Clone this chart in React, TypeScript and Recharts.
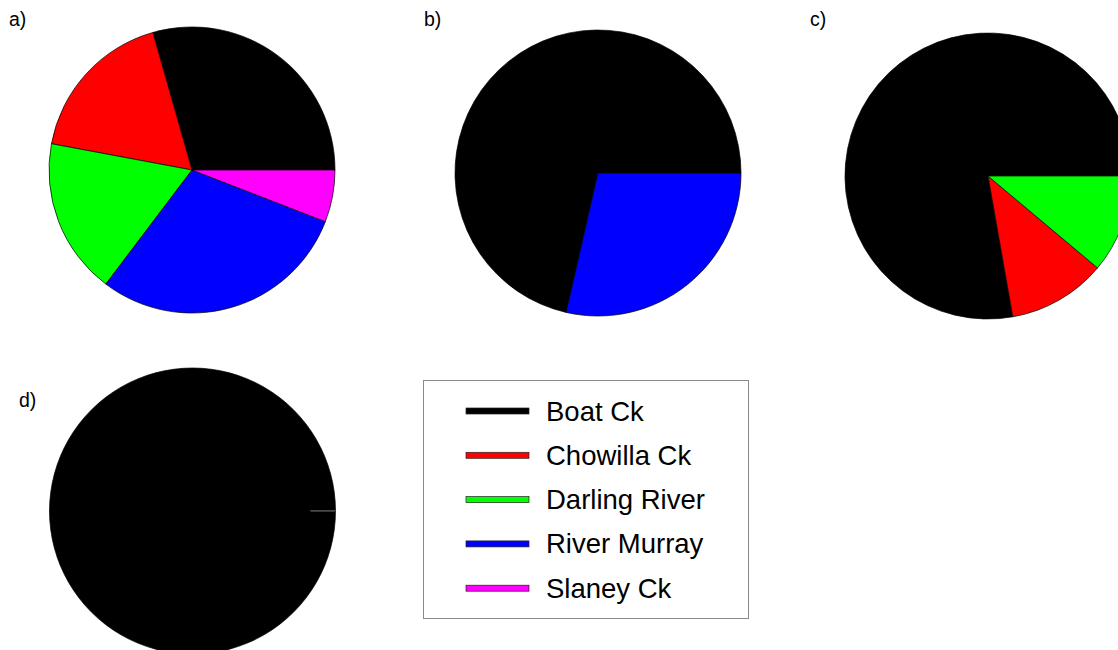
import { PieChart, Pie, Cell, Legend } from "recharts";

// sites, in the order the slices are drawn (counter-clockwise from 3 o'clock)
const sites = ["Boat Ck", "Chowilla Ck", "Darling River", "River Murray", "Slaney Ck"];
const siteColors = ["#000000", "#ff0000", "#00ff00", "#0000ff", "#ff00ff"];

// counts per site for each panel
const panelA = [5, 3, 3, 5, 1];
const panelB = [5, 0, 0, 2, 0];
const panelC = [7, 1, 1, 0, 0];
const panelD = [1, 0, 0, 0, 0];

const panelLabels = ["a)", "b)", "c)", "d)"];

// tiny grey edge left on the rim of panel d
const rimMark = [0.02, 99.98];

const W = 1118;
const H = 650;
const R = 143;
const FONT = '"Liberation Sans", Arial, sans-serif';

const layout = [
  { values: panelA, cx: 192, cy: 170, lx: 9, ly: 26 },
  { values: panelB, cx: 598, cy: 173, lx: 424, ly: 26 },
  { values: panelC, cx: 988, cy: 176, lx: 810, ly: 26 },
  { values: panelD, cx: 192.5, cy: 511, lx: 19, ly: 407 },
];

function toSlices(values: number[]) {
  return values
    .map((v, i) => ({ name: sites[i], value: v, color: siteColors[i] }))
    .filter((d) => d.value > 0);
}

function LegendBox() {
  return (
    <svg width={326} height={239} style={{ display: "block" }}>
      <rect x={0.5} y={0.5} width={325} height={238} fill="#fff" stroke="#8a8a8a" />
      {sites.map((s, i) => {
        const y = 31 + i * 44.3;
        return (
          <g key={s}>
            <rect
              x={43}
              y={y - 3}
              width={63}
              height={6}
              fill={siteColors[i]}
              stroke="#222"
              strokeWidth={0.7}
            />
            <text x={123} y={y + 9.5} fontSize={27.5} fontFamily={FONT} fill="#000">
              {s}
            </text>
          </g>
        );
      })}
    </svg>
  );
}

export default function App() {
  return (
    <div
      style={{
        position: "absolute",
        left: 0,
        top: 0,
        width: W,
        height: H,
        overflow: "hidden",
        background: "#fff",
      }}
    >
      <PieChart width={W} height={H} margin={{ top: 0, right: 0, bottom: 0, left: 0 }}>
        {layout.map((p, k) => {
          const slices = toSlices(p.values);
          return (
            <Pie
              key={k}
              data={slices}
              dataKey="value"
              nameKey="name"
              cx={p.cx}
              cy={p.cy}
              outerRadius={R}
              startAngle={0}
              endAngle={360}
              stroke="#000"
              strokeWidth={0.7}
              legendType="none"
              isAnimationActive={false}
            >
              {slices.map((s) => (
                <Cell key={s.name} fill={s.color} />
              ))}
            </Pie>
          );
        })}
        <Pie
          data={rimMark.map((v) => ({ value: v }))}
          dataKey="value"
          cx={192.5}
          cy={511}
          innerRadius={118}
          outerRadius={R}
          startAngle={0}
          endAngle={360}
          legendType="none"
          isAnimationActive={false}
        >
          <Cell fill="#555" stroke="#555" strokeWidth={1} />
          <Cell fill="none" stroke="none" />
        </Pie>
        <Legend
          content={() => <LegendBox />}
          wrapperStyle={{ left: 423, top: 380, bottom: "auto", width: 326, height: 239 }}
        />
      </PieChart>
      <svg
        width={W}
        height={H}
        style={{ position: "absolute", left: 0, top: 0, pointerEvents: "none" }}
      >
        {layout.map((p, k) => (
          <text key={k} x={p.lx} y={p.ly} fontSize={19.5} fontFamily={FONT} fill="#000">
            {panelLabels[k]}
          </text>
        ))}
      </svg>
    </div>
  );
}
